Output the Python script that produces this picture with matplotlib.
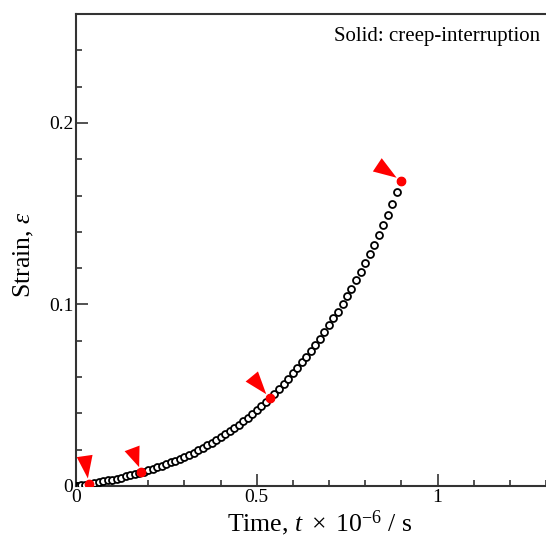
import matplotlib
matplotlib.use('Agg')
import matplotlib.pyplot as plt
from matplotlib.ticker import MultipleLocator, FuncFormatter

plt.rcParams['font.family'] = ['Liberation Serif', 'DejaVu Serif']
plt.rcParams['mathtext.fontset'] = 'custom'
plt.rcParams['mathtext.rm'] = 'Liberation Serif'
plt.rcParams['mathtext.it'] = 'Liberation Serif:italic'

# creep curve (time x 1e-6 s, strain)
time = [0.0, 0.004, 0.008, 0.0125, 0.025, 0.0375, 0.05, 0.0625, 0.075, 0.0875,
        0.1, 0.1125, 0.125, 0.1375, 0.15, 0.1625, 0.175, 0.1875, 0.2, 0.2125,
        0.225, 0.2375, 0.25, 0.2625, 0.275, 0.2875, 0.3, 0.3125, 0.325, 0.3375,
        0.35, 0.3625, 0.375, 0.3875, 0.4, 0.4125, 0.425, 0.4375, 0.45, 0.4625,
        0.475, 0.4875, 0.5, 0.5125, 0.525,
        0.536, 0.549, 0.562, 0.574, 0.587, 0.599, 0.611, 0.624, 0.636, 0.649,
        0.662, 0.674, 0.687, 0.700, 0.712, 0.725, 0.738, 0.750, 0.762, 0.775,
        0.787, 0.800, 0.812, 0.825, 0.837, 0.850, 0.8628, 0.8748, 0.8876, 0.8997]
strain = [0.0, 0.00012, 0.00025, 0.00039, 0.00079, 0.00121, 0.00165, 0.0021, 0.00257, 0.00306,
          0.00358, 0.00412, 0.00468, 0.00527, 0.00589, 0.00654, 0.00722, 0.00793, 0.00868, 0.00946,
          0.01028, 0.01115, 0.01205, 0.013, 0.01399, 0.01503, 0.01612, 0.01726, 0.01845, 0.01969,
          0.02099, 0.02235, 0.02378, 0.02526, 0.02681, 0.02842, 0.03011, 0.03186, 0.03369, 0.03559,
          0.03757, 0.03963, 0.04177, 0.04399, 0.0463,
          0.0482, 0.0508, 0.0534, 0.0562, 0.0589, 0.0620, 0.0648, 0.0681, 0.0711, 0.0744,
          0.0777, 0.0812, 0.0847, 0.0886, 0.0923, 0.0960, 0.1002, 0.1044, 0.1087, 0.1133,
          0.1179, 0.1227, 0.1276, 0.1328, 0.1381, 0.1436, 0.1492, 0.1552, 0.1617, 0.1681]

# interruption points
int_time = [0.035, 0.18, 0.536, 0.8997]
int_strain = [0.0011, 0.0075, 0.0482, 0.1681]

fig = plt.figure(figsize=(5.46, 5.41), dpi=100)
ax = fig.add_axes([76/546, 55/541, 1 - 76/546, (486 - 14)/541])

ax.plot(time, strain, 'o', ms=5, mfc='white', mec='black', mew=1.3, zorder=3)
ax.plot(int_time, int_strain, 'o', ms=6, color='red', mec='red', zorder=4)

# red wedge arrows (offset of arrow base in pixels from each point)
arrow_off = [(-4, 28), (-9, 24), (-18, 22), (-24, 16)]
for (tx, ty), (dx, dy) in zip(zip(int_time, int_strain), arrow_off):
    ax.annotate('', xy=(tx, ty), xytext=(dx, dy), textcoords='offset pixels',
                arrowprops=dict(arrowstyle='wedge,tail_width=1.15,shrink_factor=0.5',
                                color='red', lw=0, shrinkA=0, shrinkB=4), zorder=5)

ax.set_xlim(0, 1.3)
ax.set_ylim(0, 0.26)
ax.xaxis.set_major_locator(MultipleLocator(0.5))
ax.xaxis.set_minor_locator(MultipleLocator(0.1))
ax.yaxis.set_major_locator(MultipleLocator(0.1))
ax.yaxis.set_minor_locator(MultipleLocator(0.02))
fmt = FuncFormatter(lambda v, p: '%g' % round(v, 3))
ax.xaxis.set_major_formatter(fmt)
ax.yaxis.set_major_formatter(fmt)

ax.tick_params(which='both', direction='in', top=False, right=False,
               labelsize=14, color='#333333', width=1.2)
ax.tick_params(which='major', length=8.5, pad=2)
ax.tick_params(which='minor', length=4.5)
for side in ['left', 'bottom', 'top']:
    ax.spines[side].set_linewidth(1.5)
    ax.spines[side].set_color('#333333')
ax.spines['right'].set_visible(False)

ax.set_xlabel(r'Time, $t\ \times\ $10$^{-6}$ / s', fontsize=18.5)
ax.set_ylabel(r'Strain, $\varepsilon$', fontsize=18.5)
ax.xaxis.set_label_coords(0.519, -0.047)
ax.yaxis.set_label_coords(-0.085, 0.489)

fig.text(540/546, 1 - 37/541, 'Solid: creep-interruption', fontsize=15,
         ha='right', va='center')

fig.savefig('out.png', dpi=100)
